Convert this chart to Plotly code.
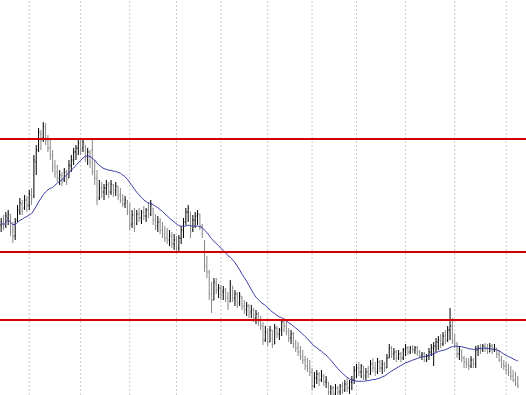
import plotly.graph_objects as go
import pandas as pd

# Price data (arbitrary price units), one bar per trading day
highs = [282,285,288,290,286,278,282,295,302,300,305,304,310,312,345,355,372,370,378,377,
         365,360,350,340,335,330,328,332,330,340,345,352,355,360,362,362,355,352,350,360,
         340,330,320,318,316,320,318,320,316,318,314,312,306,304,300,297,290,292,290,292,
         290,294,292,298,300,292,286,284,282,278,274,272,270,268,266,264,265,274,282,292,
         295,288,285,288,290,286,276,260,244,230,218,222,222,216,215,214,212,208,220,214,
         210,208,208,204,200,198,196,195,192,190,188,184,178,174,172,174,170,176,174,172,
         180,182,180,172,170,168,160,158,154,150,144,142,140,132,128,130,128,130,126,124,
         118,115,114,116,114,116,118,120,122,120,124,134,136,138,136,134,132,134,140,142,
         138,142,140,140,138,146,156,154,152,150,150,148,152,156,154,154,155,154,154,150,
         148,148,146,152,156,158,162,164,166,168,170,174,192,182,166,158,154,150,144,142,
         142,144,142,154,155,156,156,157,156,157,156,156,152,150,144,140,138,136,134,130,
         128,124]
lows = [268,270,272,275,264,257,260,278,285,285,290,288,290,295,302,325,348,350,358,355,
        348,340,328,322,318,315,314,318,315,322,328,335,340,345,345,348,338,335,332,325,
        315,295,300,302,300,305,302,305,303,304,300,297,293,292,285,270,272,268,275,278,
        276,280,278,282,284,275,270,268,266,262,258,256,254,252,250,248,247,256,262,275,
        278,262,268,272,275,270,262,228,222,200,187,200,206,202,200,200,198,190,198,198,
        194,192,194,190,186,184,182,182,178,176,174,170,155,158,154,158,152,156,162,160,
        164,168,165,158,156,152,148,144,140,136,130,128,124,110,112,116,114,118,114,112,
        105,102,102,104,102,104,106,108,108,106,110,116,122,124,122,120,120,122,125,128,
        124,126,128,126,128,132,142,142,140,138,140,138,140,144,145,146,147,146,144,142,
        140,138,138,140,144,134,148,150,152,154,156,158,160,156,152,142,140,138,132,132,
        130,132,132,132,144,146,148,148,146,148,146,148,142,138,132,130,126,124,120,118,
        114,112]
opens = [275,278,274,282,285,270,264,280,288,296,292,300,295,305,304,338,350,366,362,372,
         360,352,345,334,328,322,324,320,328,322,334,340,348,352,357,352,356,344,348,350,
         328,322,302,312,308,312,315,308,315,310,314,305,300,296,298,288,276,285,276,286,
         282,288,284,290,286,292,280,274,278,270,266,262,260,264,256,260,252,262,270,278,
         288,288,270,280,284,286,274,258,234,228,206,200,216,210,212,208,210,202,198,214,
         202,206,198,202,194,190,194,188,190,182,186,178,174,160,168,158,170,156,172,166,
         170,178,174,168,162,166,156,152,148,144,140,134,132,128,114,122,126,120,124,118,
         118,108,112,106,112,108,114,110,116,112,118,120,130,132,128,134,124,128,126,136,
         132,128,138,132,136,132,142,152,146,148,142,146,142,150,152,148,152,150,152,148,
         144,146,140,144,148,152,154,158,160,156,164,160,170,174,160,156,146,150,142,138,
         136,134,140,136,150,152,150,154,152,148,154,150,152,146,140,136,134,130,128,124,
         120,116]
closes = [278,272,284,286,268,264,278,290,297,290,300,294,306,302,340,350,368,360,374,360,
          352,345,332,326,322,325,318,328,320,335,340,348,352,357,350,358,342,348,338,328,
          322,300,312,308,312,315,308,316,308,314,304,300,296,300,288,275,285,272,286,282,
          288,284,290,285,295,280,274,278,270,266,262,260,264,256,260,252,262,270,278,288,
          292,268,280,284,286,274,266,234,228,206,200,218,210,212,205,210,202,195,216,202,
          206,196,204,194,190,194,186,190,182,186,178,174,160,168,158,170,155,172,166,170,
          178,174,168,162,166,156,152,148,144,140,134,132,128,114,122,126,120,124,118,120,
          108,112,106,112,108,114,110,116,112,118,120,130,132,128,134,124,128,126,136,132,
          128,138,132,136,132,142,152,146,148,142,146,142,150,152,148,152,150,152,148,144,
          146,140,144,148,152,154,158,160,156,164,160,170,174,160,156,146,150,142,138,136,
          134,140,136,150,152,150,154,152,148,154,150,152,146,140,136,134,130,128,124,120,
          116,114]

# Horizontal support / resistance levels
levels = [361, 248, 180]
# Bar indices where a new month starts (vertical grid)
month_starts = [12, 34, 55, 75, 94, 114, 133, 152, 173, 194, 216]
ma_period = 23

n = len(closes)
x = list(range(n))
ma = pd.Series(closes).rolling(ma_period, min_periods=1).mean()

fig = go.Figure()
fig.add_trace(go.Ohlc(
    x=x, open=opens, high=highs, low=lows, close=closes,
    increasing=dict(line=dict(color="#000000", width=1)),
    decreasing=dict(line=dict(color="#888888", width=1)),
    tickwidth=0.35, showlegend=False, hoverinfo="skip"))
fig.add_trace(go.Scatter(
    x=x, y=ma, mode="lines", line=dict(color="#3a3aa8", width=1, shape="spline", smoothing=1),
    showlegend=False, hoverinfo="skip"))

shapes = []
for m in month_starts:
    shapes.append(dict(type="line", xref="x", yref="paper", x0=m, x1=m, y0=0, y1=1,
                       line=dict(color="#cdcdcd", width=1, dash="2px,2px"), layer="below"))
for lv in levels:
    shapes.append(dict(type="line", xref="paper", yref="y", x0=0, x1=1, y0=lv, y1=lv,
                       line=dict(color="#d40000", width=2), layer="above"))

fig.update_layout(
    width=526, height=395, margin=dict(l=0, r=0, t=0, b=0),
    paper_bgcolor="white", plot_bgcolor="white", shapes=shapes,
    xaxis=dict(range=[-0.5, 224.5], visible=False, rangeslider=dict(visible=False),
               showgrid=False, zeroline=False),
    yaxis=dict(range=[105, 500], visible=False, showgrid=False, zeroline=False),
)
fig.write_html("out.html")
